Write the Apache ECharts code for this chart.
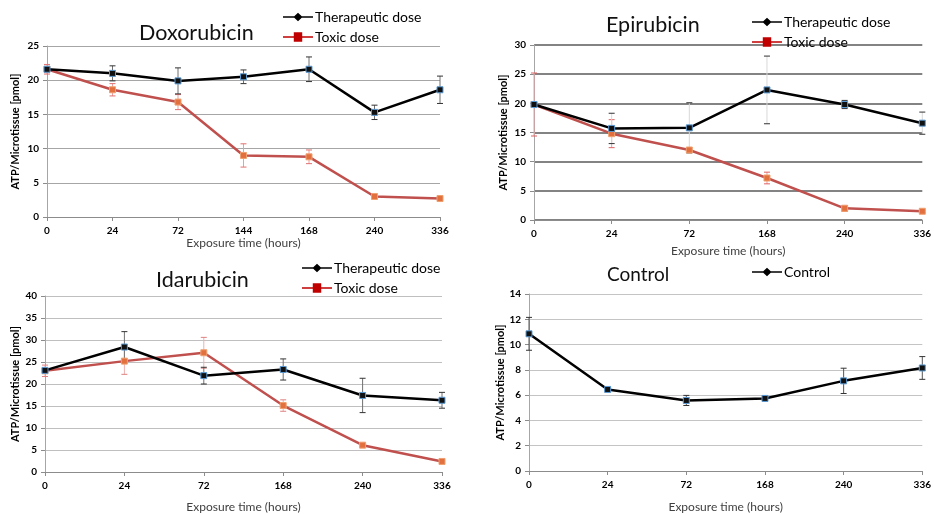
<!DOCTYPE html>
<html>
<head>
<meta charset="utf-8">
<script src="https://cdn.jsdelivr.net/npm/echarts@6/dist/echarts.min.js"></script>
<style>
  html, body { margin: 0; padding: 0; background: #fff; }
  #chart { width: 934px; height: 514px; }
</style>
</head>
<body>
<div id="chart"></div>
<script>
// ATP content per microtissue over exposure time, four treatments
const doxHours = ['0', '24', '72', '144', '168', '240', '336'];
const doxTherapeutic = [21.6, 21.0, 19.9, 20.5, 21.6, 15.3, 18.6];
const doxTherapeuticErr = [0.3, 1.1, 1.9, 1.0, 1.8, 1.05, 2.0];
const doxToxic = [21.6, 18.6, 16.8, 9.0, 8.8, 3.0, 2.7];
const doxToxicErr = [0.7, 0.9, 1.1, 1.7, 1.0, 0.2, 0.4];

const epiHours = ['0', '24', '72', '168', '240', '336'];
const epiTherapeutic = [19.8, 15.7, 15.8, 22.3, 19.8, 16.6];
const epiTherapeuticErr = [0.3, 2.6, 4.3, 5.8, 0.7, 1.9];
const epiToxic = [19.8, 14.8, 12.0, 7.2, 2.0, 1.5];
const epiToxicErr = [5.4, 2.4, 0.4, 1.0, 0.5, 0.2];

const idaHours = ['0', '24', '72', '168', '240', '336'];
const idaTherapeutic = [23.1, 28.4, 21.9, 23.3, 17.4, 16.3];
const idaTherapeuticErr = [0.5, 3.5, 1.9, 2.4, 3.9, 1.8];
const idaToxic = [23.0, 25.2, 27.1, 15.1, 6.1, 2.4];
const idaToxicErr = [1.3, 3.0, 3.5, 1.3, 0.3, 0.2];

const ctrlHours = ['0', '24', '72', '168', '240', '336'];
const ctrlValues = [10.85, 6.45, 5.58, 5.74, 7.13, 8.15];
const ctrlErr = [1.3, 0.1, 0.4, 0.2, 1.0, 0.9];

// y scales per panel: [max, interval]
const doxScale = [25, 5];
const epiScale = [30, 5];
const idaScale = [40, 5];
const ctrlScale = [14, 2];

const FONT = 'Lato, "Open Sans", sans-serif';
const THER_COLOR = '#000000';
const TOX_LINE = '#c0504d';
const TOX_MARK = '#e2703f';
const LEGEND_RED = '#c00000';

// legend glyphs: a short line with a diamond / square in the middle
const ICON_DIAMOND = 'path://M0,9.2 L12,9.2 L16,5.5 L20,9.2 L32,9.2 L32,10.8 L20,10.8 L16,14.5 L12,10.8 L0,10.8 Z';
const ICON_SQUARE = 'path://M0,9.1 L11.5,9.1 L11.5,5 L20.5,5 L20.5,9.1 L32,9.1 L32,10.9 L20.5,10.9 L20.5,15 L11.5,15 L11.5,10.9 L0,10.9 Z';

function errData(values, errs) {
  return values.map((v, i) => [i, v - errs[i], v + errs[i]]);
}

function errorSeries(idx, values, errs, stemColor, capColor, z) {
  return {
    type: 'custom',
    xAxisIndex: idx,
    yAxisIndex: idx,
    silent: true,
    z: z,
    data: errData(values, errs),
    renderItem: function (params, api) {
      const x = api.value(0);
      const lo = api.coord([x, api.value(1)]);
      const hi = api.coord([x, api.value(2)]);
      const w = 3;
      return {
        type: 'group',
        children: [
          { type: 'line', shape: { x1: lo[0], y1: lo[1], x2: hi[0], y2: hi[1] },
            style: { stroke: stemColor, lineWidth: 1 } },
          { type: 'line', shape: { x1: hi[0] - w, y1: hi[1], x2: hi[0] + w, y2: hi[1] },
            style: { stroke: capColor, lineWidth: 1 } },
          { type: 'line', shape: { x1: lo[0] - w, y1: lo[1], x2: lo[0] + w, y2: lo[1] },
            style: { stroke: capColor, lineWidth: 1 } }
        ]
      };
    }
  };
}

function therapeuticLine(idx, name, values) {
  return {
    type: 'line', name: name, xAxisIndex: idx, yAxisIndex: idx, data: values,
    symbol: 'rect', symbolSize: 6, z: 4,
    lineStyle: { color: THER_COLOR, width: 2.5 },
    itemStyle: { color: '#111111', borderColor: '#5b9bd5', borderWidth: 1 },
    emphasis: { disabled: true }
  };
}

function toxicLine(idx, values) {
  return {
    type: 'line', name: 'Toxic dose', xAxisIndex: idx, yAxisIndex: idx, data: values,
    symbol: 'rect', symbolSize: 6, z: 3,
    lineStyle: { color: TOX_LINE, width: 2.5 },
    itemStyle: { color: TOX_MARK, borderColor: '#f0a070', borderWidth: 1 },
    emphasis: { disabled: true }
  };
}

function xAxis(idx, cats, gap) {
  return {
    type: 'category', gridIndex: idx, data: cats, boundaryGap: false,
    name: 'Exposure time (hours)', nameLocation: 'middle', nameGap: gap,
    nameTextStyle: { fontFamily: FONT, fontSize: 12, color: '#404040' },
    axisLine: { lineStyle: { color: '#8c8c8c', width: 1 } },
    axisTick: { show: true, length: 4, lineStyle: { color: '#8c8c8c' } },
    axisLabel: { fontFamily: FONT, fontSize: 10, fontWeight: 'bold', color: '#000', margin: 9 }
  };
}

function yAxis(idx, scale, gridColor, gridWidth, gap) {
  return {
    type: 'value', gridIndex: idx, min: 0, max: scale[0], interval: scale[1],
    name: 'ATP/Microtissue [pmol]', nameLocation: 'middle', nameGap: gap,
    nameTextStyle: { fontFamily: FONT, fontSize: 11, fontWeight: 'bold', color: '#000' },
    axisLine: { show: true, lineStyle: { color: '#a6a6a6', width: 1 } },
    axisTick: { show: true, length: 4, lineStyle: { color: '#8c8c8c' } },
    axisLabel: { fontFamily: FONT, fontSize: 10, fontWeight: 'bold', color: '#000', margin: 8 },
    splitLine: { show: true, lineStyle: { color: gridColor, width: gridWidth } }
  };
}

function title(text, left, top, size) {
  return { text: text, left: left, top: top, padding: 0,
    textStyle: { fontFamily: FONT, fontSize: size, fontWeight: 'normal', color: '#111' } };
}

function legend(left, top, items) {
  return {
    left: left, top: top, orient: 'vertical', itemGap: 6, padding: 0,
    itemWidth: 30, itemHeight: 10, selectedMode: false,
    textStyle: { fontFamily: FONT, fontSize: 14, color: '#000', padding: [0, 0, 0, -3] },
    data: items
  };
}

const plain = { borderWidth: 0, shadowBlur: 0 };
const therItem = { name: 'Therapeutic dose', icon: ICON_DIAMOND,
  itemStyle: Object.assign({ color: '#000' }, plain) };
const toxItem = { name: 'Toxic dose', icon: ICON_SQUARE,
  itemStyle: Object.assign({ color: LEGEND_RED }, plain) };
const ctrlItem = { name: 'Control', icon: ICON_DIAMOND,
  itemStyle: Object.assign({ color: '#000' }, plain) };

const option = {
  backgroundColor: '#ffffff',
  animation: false,
  title: [
    title('Doxorubicin', 139, 22, 21.5),
    title('Epirubicin', 606, 14, 21.5),
    title('Idarubicin', 156, 269, 21.5),
    title('Control', 607, 265, 19)
  ],
  legend: [
    legend(283, 10, [therItem, toxItem]),
    legend(752, 15, [therItem, toxItem]),
    legend(302, 261, [therItem, toxItem]),
    legend(752, 265, [ctrlItem])
  ],
  grid: [
    { left: 47, right: 494, top: 46, bottom: 297 },
    { left: 534, right: 8, top: 45, bottom: 294 },
    { left: 45, right: 492, top: 296, bottom: 42 },
    { left: 529, right: 5, top: 294, bottom: 42 }
  ],
  xAxis: [
    xAxis(0, doxHours, 18),
    xAxis(1, epiHours, 25),
    xAxis(2, idaHours, 29),
    xAxis(3, ctrlHours, 30)
  ],
  yAxis: [
    yAxis(0, doxScale, '#a6a6a6', 1, 26),
    yAxis(1, epiScale, '#5a5a5a', 1.5, 25),
    yAxis(2, idaScale, '#bfbfbf', 1, 24),
    yAxis(3, ctrlScale, '#c4c4c4', 1, 22)
  ],
  series: [
    errorSeries(0, doxToxic, doxToxicErr, '#eaa0a0', '#e07070', 2),
    errorSeries(0, doxTherapeutic, doxTherapeuticErr, '#707070', '#333333', 2),
    toxicLine(0, doxToxic),
    therapeuticLine(0, 'Therapeutic dose', doxTherapeutic),

    errorSeries(1, epiToxic, epiToxicErr, '#e8a0a0', '#e06060', 2),
    errorSeries(1, epiTherapeutic, epiTherapeuticErr, '#d8d8d8', '#333333', 2),
    toxicLine(1, epiToxic),
    therapeuticLine(1, 'Therapeutic dose', epiTherapeutic),

    errorSeries(2, idaToxic, idaToxicErr, '#eeb0b0', '#e08080', 2),
    errorSeries(2, idaTherapeutic, idaTherapeuticErr, '#707070', '#333333', 2),
    toxicLine(2, idaToxic),
    therapeuticLine(2, 'Therapeutic dose', idaTherapeutic),

    errorSeries(3, ctrlValues, ctrlErr, '#555555', '#333333', 2),
    therapeuticLine(3, 'Control', ctrlValues)
  ]
};

const chart = echarts.init(document.getElementById('chart'), null, { renderer: 'canvas' });
chart.setOption(option);
</script>
</body>
</html>
